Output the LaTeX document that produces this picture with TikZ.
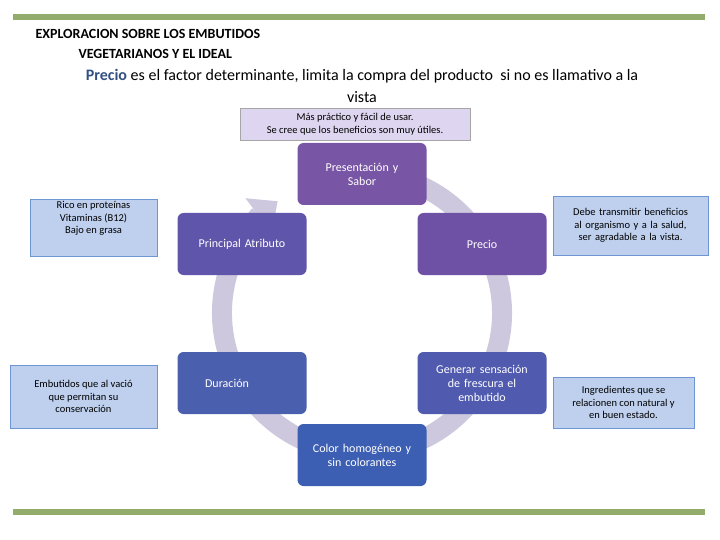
\documentclass[tikz,border=0pt]{standalone}
\usepackage{fontspec}
\setmainfont{Carlito}
\usetikzlibrary{arrows.meta}
\definecolor{ring}{RGB}{205,200,222}
\definecolor{side}{RGB}{190,208,238}
\definecolor{sideb}{RGB}{110,150,210}
\definecolor{lav}{RGB}{222,214,240}
\definecolor{bar}{RGB}{120,150,70}
\begin{document}
\begin{tikzpicture}[x=1pt,y=-1pt,
 nd/.style={rounded corners=6pt,minimum width=129pt,minimum height=62pt,text width=118pt,align=center,text=white,font=\fontsize{12}{14}\selectfont,inner sep=2pt},
 sd/.style={draw=sideb,fill=side,align=center,font=\fontsize{10.5}{12.5}\selectfont,inner sep=2pt}]
\useasboundingbox (0,0) rectangle (720,540);
\fill[bar!80] (13,14) rectangle (705,20);
\fill[bar!80] (13,509) rectangle (705,515);
\node[anchor=west,font=\fontsize{14}{16}\selectfont\bfseries] (t1) at (32,34) {EXPLORACION SOBRE LOS EMBUTIDOS};
\node[anchor=west,font=\fontsize{14}{16}\selectfont\bfseries] (t2) at (75,54) {VEGETARIANOS Y EL IDEAL};
\node[align=center,font=\fontsize{16}{22}\selectfont] (t3) at (362,86) {\textcolor[RGB]{50,80,130}{\bfseries Precio} es el factor determinante, limita la compra del producto\ \ si no es llamativo a la\\vista};
% ring
\draw[ring,line width=20pt,-{Triangle[width=42pt,length=24pt]}] (362,313) ++(-65:140) arc[start angle=-65,end angle=233,radius=140];
\node[draw=gray!70,fill=lav,minimum width=230pt,minimum height=32pt,align=center,font=\fontsize{10.5}{12.5}\selectfont] (top) at (355,124) {Más práctico y fácil de usar.\\Se cree que los beneficios son muy útiles.};
\node[nd,fill={rgb,255:red,120;green,86;blue,165}] (ps) at (362,174) {Presentación y\\Sabor};
\node[nd,fill={rgb,255:red,95;green,85;blue,170}] (pa) at (242,244) {Principal Atributo};
\node[nd,fill={rgb,255:red,110;green,80;blue,165}] (pr) at (482,244) {Precio};
\node[nd,fill={rgb,255:red,75;green,95;blue,175}] (du) at (242,383) {\hspace*{-30pt}Duración};
\node[nd,fill={rgb,255:red,80;green,90;blue,175}] (ge) at (482,383) {Generar sensación\\de frescura el\\embutido};
\node[nd,fill={rgb,255:red,60;green,95;blue,180}] (co) at (362,455) {Color homogéneo y\\sin colorantes};
\node[sd,minimum width=127pt,minimum height=50pt] (l1) at (93.5,228) {Rico en proteínas\\Vitaminas (B12)\\Bajo en grasa\\[8pt]};
\node[sd,minimum width=147pt,minimum height=63pt] (l2) at (83.5,396.5) {Embutidos que al vació\\que permitan su\\conservación};
\node[sd,minimum width=155pt,minimum height=59pt,text width=150pt] (r1) at (630.5,225.5) {Debe transmitir beneficios al organismo y a la salud, ser agradable a la vista.};
\node[sd,minimum width=141pt,minimum height=51pt] (r2) at (623.5,402.5) {Ingredientes que se\\relacionen con natural y\\en buen estado.};
\end{tikzpicture}
\end{document}
